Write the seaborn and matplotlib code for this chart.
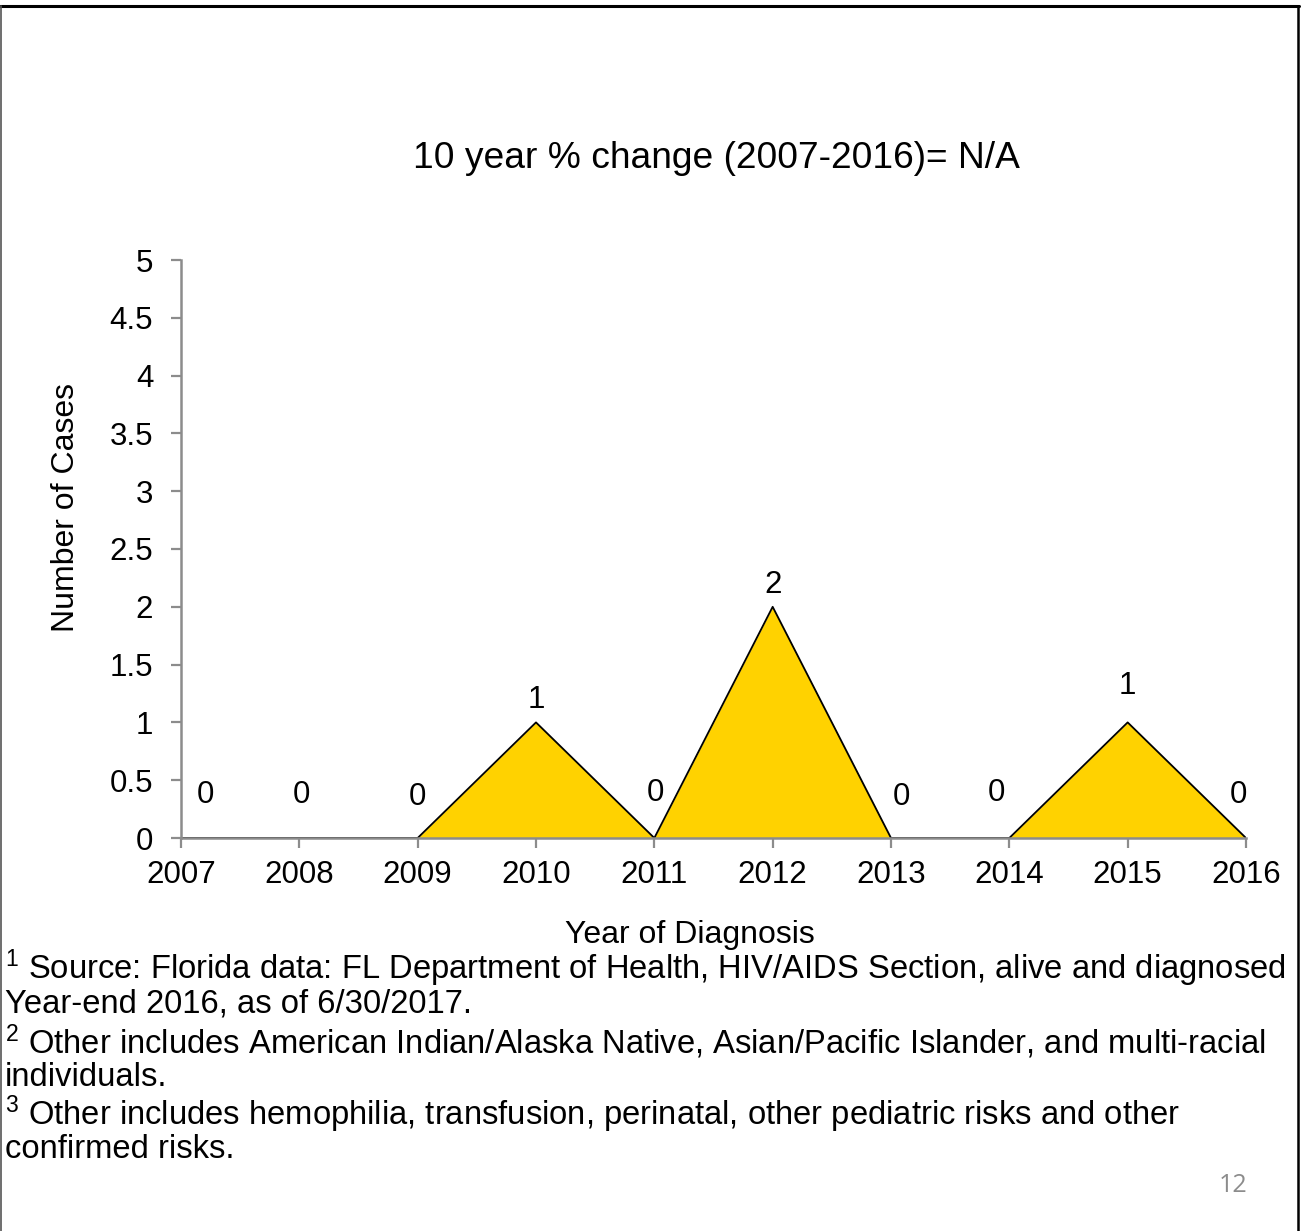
import matplotlib
matplotlib.use("Agg")
import matplotlib.pyplot as plt
import seaborn as sns
import pandas as pd
from matplotlib.lines import Line2D

# ---- data ----
years = [2007, 2008, 2009, 2010, 2011, 2012, 2013, 2014, 2015, 2016]
cases = [0, 0, 0, 1, 0, 2, 0, 0, 1, 0]
y_ticks = [0, 0.5, 1, 1.5, 2, 2.5, 3, 3.5, 4, 4.5, 5]
y_tick_labels = ["0", "0.5", "1", "1.5", "2", "2.5", "3", "3.5", "4", "4.5", "5"]
title_text = "10 year % change (2007-2016)= N/A"
x_label = "Year of Diagnosis"
y_label = "Number of Cases"
footnotes = [
    r"$^{1}$ Source: Florida data: FL Department of Health, HIV/AIDS Section, alive and diagnosed",
    "Year-end 2016, as of 6/30/2017.",
    r"$^{2}$ Other includes American Indian/Alaska Native, Asian/Pacific Islander, and multi-racial",
    "individuals.",
    r"$^{3}$ Other includes hemophilia, transfusion, perinatal, other pediatric risks and other",
    "confirmed risks.",
]
page_number = "12"

# label offsets (pixels) for Excel-like data label placement
label_dx = [24, 2, 0, 0, 1, 0, 10, -13, 0, -8]
label_dy = [43, 43, 41, 22, 45, 22, 41, 45, 36, 43]

df = pd.DataFrame({"year": years, "cases": cases})

sns.set_theme(style="white")
plt.rcParams["font.family"] = ["Liberation Sans", "DejaVu Sans"]
plt.rcParams["mathtext.fontset"] = "custom"
plt.rcParams["mathtext.rm"] = "Liberation Sans"
plt.rcParams["mathtext.it"] = "Liberation Sans"
plt.rcParams["text.color"] = "black"
plt.rcParams["axes.labelcolor"] = "black"
plt.rcParams["xtick.labelcolor"] = "black"
plt.rcParams["ytick.labelcolor"] = "black"

W, H = 1301, 1231
fig = plt.figure(figsize=(W / 100, H / 100), dpi=100)
fig.patch.set_facecolor("white")

ax = fig.add_axes([181 / W, 1 - 838 / H, (1246 - 181) / W, (838 - 260) / H])
ax.set_facecolor("white")

gold = "#FFD200"
ax.fill_between(df["year"], 0, df["cases"], color=gold, linewidth=0, zorder=1)
sns.lineplot(data=df, x="year", y="cases", ax=ax, color="black", linewidth=1.3, zorder=2)

for x, y, dx, dy in zip(years, cases, label_dx, label_dy):
    ax.annotate(str(y), (x, y), xytext=(dx, dy), textcoords="offset pixels",
                ha="center", va="center", fontsize=22.5, color="black")

ax.set_xlim(years[0], years[-1])
ax.set_ylim(0, 5)
ax.set_xticks(years)
ax.set_xticklabels([str(y) for y in years])
ax.set_yticks(y_ticks)
ax.set_yticklabels(y_tick_labels)

grey = "#8C8C8C"
for side in ["top", "right"]:
    ax.spines[side].set_visible(False)
for side in ["left", "bottom"]:
    ax.spines[side].set_color(grey)
    ax.spines[side].set_linewidth(1.8)
    ax.spines[side].set_zorder(4)

ax.tick_params(axis="x", which="major", direction="out", length=7, width=1.6, color=grey,
               labelsize=22.5, pad=9, bottom=True)
ax.tick_params(axis="y", which="major", direction="out", length=7, width=1.6, color=grey,
               labelsize=22.5, pad=13, left=True)

ax.set_xlabel(x_label, fontsize=23, va="center")
ax.xaxis.set_label_coords((690 - 181) / 1065, -(935 - 838) / 578)
ax.set_ylabel(y_label, fontsize=23, va="center")
ax.yaxis.set_label_coords(-(181 - 66) / 1065, (838 - 508) / 578)

fig.text(716 / W, 1 - 158 / H, title_text, ha="center", va="center", fontsize=26.7)

line_y = [968, 1004, 1042, 1078, 1114, 1150]
for txt, yy in zip(footnotes, line_y):
    fig.text(5 / W, 1 - yy / H, txt, ha="left", va="center", fontsize=23.6)

fig.text(1233 / W, 1 - 1185 / H, page_number, ha="center", va="center",
         fontsize=18, color="#8C8C8C", family=["Open Sans", "DejaVu Sans"])

# slide frame
fig.add_artist(Line2D([0, 1299 / W], [1 - 6 / H, 1 - 6 / H], transform=fig.transFigure,
                      color="black", linewidth=2.2))
fig.add_artist(Line2D([1 / W, 1 / W], [0, 1 - 6 / H], transform=fig.transFigure,
                      color="#555555", linewidth=1.2))
fig.add_artist(Line2D([1298 / W, 1298 / W], [0, 1 - 6 / H], transform=fig.transFigure,
                      color="black", linewidth=1.8))

fig.savefig("out.png", dpi=100, facecolor="white")
